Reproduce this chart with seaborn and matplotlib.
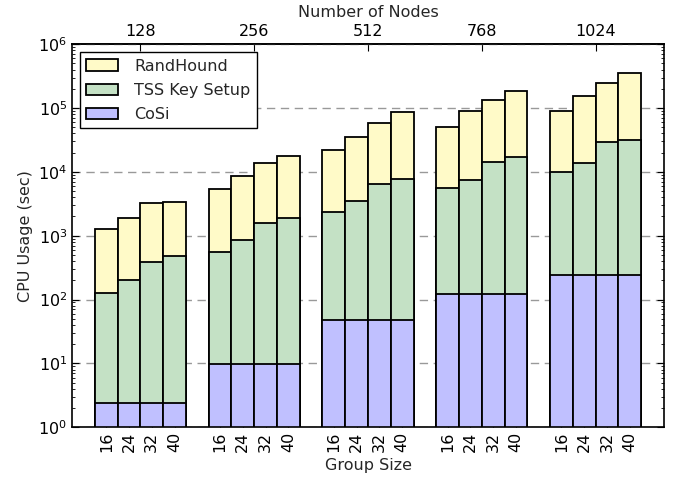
import numpy as np
import pandas as pd
import matplotlib
matplotlib.use("Agg")
import matplotlib.pyplot as plt
import seaborn as sns

# ── Data (per-layer values) ───────────────────────────────────────────────────
NODES       = [128, 256, 512, 768, 1024]
GROUP_SIZES = ["16", "24", "32", "40"]

COSI = [
    [2.4, 2.4, 2.4, 2.4],
    [9.6, 9.6, 9.6, 9.6],
    [47, 47, 47, 47],
    [120, 120, 120, 120],
    [243, 243, 243, 243],
]
TSS = [
    [122, 201, 383, 481],
    [555, 831, 1570, 1870],
    [2310, 3420, 6370, 7540],
    [5490, 7360, 14230, 16680],
    [9760, 13560, 28960, 30760],
]
RANDHOUND = [
    [1141, 1697, 2845, 2907],
    [4735, 7709, 12420, 16120],
    [19740, 31830, 52180, 77610],
    [44490, 80820, 118450, 164800],
    [79300, 139600, 213400, 316800],
]

COLORS = {"randhound": "#fffac8", "tss": "#c4e1c5", "cosi": "#c0c0ff"}
FS = 11.5

# ── Style ─────────────────────────────────────────────────────────────────────
sns.set_style("ticks")
plt.rcParams.update({
    "font.family": "DejaVu Sans",
    "font.size": FS,
    "axes.linewidth": 1.2,
    "xtick.direction": "in",
    "ytick.direction": "in",
    "xtick.color": "black",
    "ytick.color": "black",
    "axes.edgecolor": "black",
})

rows = []
for g, n in enumerate(NODES):
    for j, gs in enumerate(GROUP_SIZES):
        rows.append({"pos": g * 5 + j + 0.5, "nodes": n, "group": gs,
                     "cosi": COSI[g][j], "tss": TSS[g][j], "rh": RANDHOUND[g][j]})
df = pd.DataFrame(rows)
df["tss_top"] = df["cosi"] + df["tss"]
df["total"] = df["tss_top"] + df["rh"]

fig = plt.figure(figsize=(6.74, 4.8), dpi=100)
ax = fig.add_axes([0.107, 0.110, 0.878, 0.798])
ax.set_yscale("log")

# stacked look: draw cumulative totals back to front
layers = [("total", "randhound", "RandHound"),
          ("tss_top", "tss", "TSS Key Setup"),
          ("cosi", "cosi", "CoSi")]
for col, key, label in layers:
    sns.barplot(data=df, x="pos", y=col, native_scale=True, width=1.0,
                color=COLORS[key], saturation=1, edgecolor="black", linewidth=1.3,
                errorbar=None, label=label, ax=ax)

ax.set_xlim(-1, 25)
ax.set_ylim(1, 1e6)
ax.set_xticks(df["pos"])
ax.set_xticklabels(df["group"], rotation=90)
ax.set_xlabel("Group Size", fontsize=FS, labelpad=4)
ax.set_ylabel("CPU Usage (sec)", fontsize=FS)
ax.tick_params(axis="x", which="both", top=False, length=5)
ax.tick_params(axis="y", which="major", left=True, right=True, length=5)
ax.tick_params(axis="y", which="minor", left=True, right=True, length=2.5)
ax.yaxis.grid(True, which="major", linestyle=(0, (6, 4)), color="0.6", linewidth=1)
ax.set_axisbelow(True)

top = ax.secondary_xaxis("top")
top.set_xticks([g * 5 + 2 for g in range(len(NODES))])
top.set_xticklabels([str(n) for n in NODES])
top.tick_params(axis="x", direction="in", length=5)
top.set_xlabel("Number of Nodes", fontsize=FS, labelpad=5)

leg = ax.legend(loc="upper left", fancybox=False, edgecolor="black", framealpha=1,
                borderaxespad=0.5, handlelength=2.0, handletextpad=1.0,
                labelspacing=0.58, borderpad=0.4, fontsize=FS)
leg.get_frame().set_linewidth(1.0)

fig.savefig("out.png", dpi=100)
